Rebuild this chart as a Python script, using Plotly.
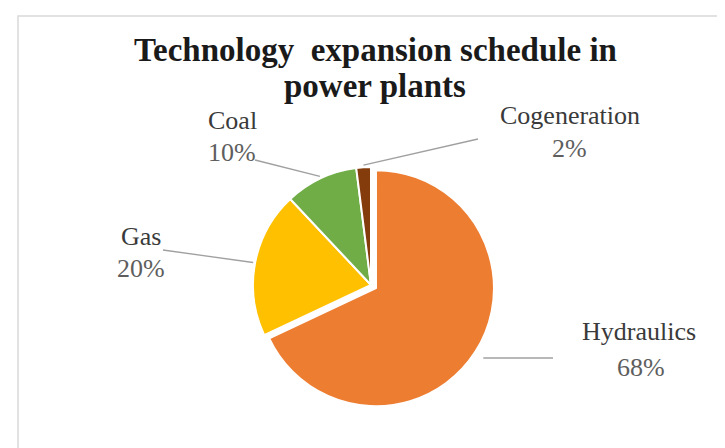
import math
import plotly.graph_objects as go

# ---- data ----
categories = ["Hydraulics", "Gas", "Coal", "Cogeneration"]
shares = [68, 20, 10, 2]
pct_labels = ["68%", "20%", "10%", "2%"]
colors = ["#ED7D31", "#FFC000", "#70AD47", "#843C0C"]
title_lines = ["Technology  expansion schedule in", "power plants"]

W, H = 725, 448
# pie geometry (pixels, top-left origin)
CX, CY, R = 363, 277, 118
PULL = [0.05, 0, 0, 0]
side = 2 * R * (1 + max(PULL))

def px(x):
    return x / W

def py(y):
    return 1 - y / H

fig = go.Figure()
fig.add_trace(go.Pie(
    labels=categories, values=shares, sort=False, direction="clockwise",
    rotation=0, pull=PULL, textinfo="none", hoverinfo="label+percent",
    marker=dict(colors=colors, line=dict(color="white", width=2)),
    domain=dict(x=[px(CX - side / 2), px(CX + side / 2)],
                y=[py(CY + side / 2), py(CY - side / 2)]),
    showlegend=False,
))

# label placements (pixels): name position, percent position, leader line end
label_pos = {
    "Coal": ((224, 112), (224, 144), (247, 152)),
    "Gas": ((133, 228), (133, 260), (155, 242)),
    "Cogeneration": ((562, 107), (561, 141), (470, 131)),
    "Hydraulics": ((631, 323), (633, 359), (545, 350)),
}

total = sum(shares)
cum = 0
shapes = []
annotations = []
for cat, v, pct, pl in zip(categories, shares, pct_labels, PULL):
    mid = (cum + v / 2) / total * 2 * math.pi
    cum += v
    dx, dy = math.sin(mid), -math.cos(mid)
    rr = R * (1 + pl) + 2
    ax, ay = CX + dx * rr, CY + dy * rr
    (nx, ny), (qx, qy), (lx, ly) = label_pos[cat]
    if cat == "Hydraulics":
        shapes.append(dict(type="line", xref="paper", yref="paper",
                           x0=px(ax + 6), y0=py(ly), x1=px(lx), y1=py(ly),
                           line=dict(color="#A0A0A0", width=1.3)))
    else:
        shapes.append(dict(type="line", xref="paper", yref="paper",
                           x0=px(ax), y0=py(ay), x1=px(lx), y1=py(ly),
                           line=dict(color="#A0A0A0", width=1.3)))
    annotations.append(dict(x=px(nx), y=py(ny), xref="paper", yref="paper",
                            text=cat, showarrow=False, xanchor="center", yanchor="middle",
                            font=dict(family="Liberation Serif", size=26, color="#3A3A3A")))
    annotations.append(dict(x=px(qx), y=py(qy), xref="paper", yref="paper",
                            text=pct, showarrow=False, xanchor="center", yanchor="middle",
                            font=dict(family="Liberation Serif", size=26, color="#5E5E5E")))

# title lines
for txt, ty in zip(title_lines, [42, 78]):
    annotations.append(dict(x=px(367), y=py(ty), xref="paper", yref="paper",
                            text="<b>" + txt + "</b>", showarrow=False,
                            xanchor="center", yanchor="middle",
                            font=dict(family="Liberation Serif", size=33, color="#1A1A1A")))

# frame
shapes.append(dict(type="rect", xref="paper", yref="paper",
                   x0=px(10), y0=py(470), x1=px(716), y1=py(8),
                   line=dict(color="#D9D9D9", width=1.5)))

fig.update_layout(
    width=W, height=H, margin=dict(l=0, r=0, t=0, b=0),
    paper_bgcolor="white", plot_bgcolor="white",
    shapes=shapes, annotations=annotations,
)

fig.write_html("out.html")
